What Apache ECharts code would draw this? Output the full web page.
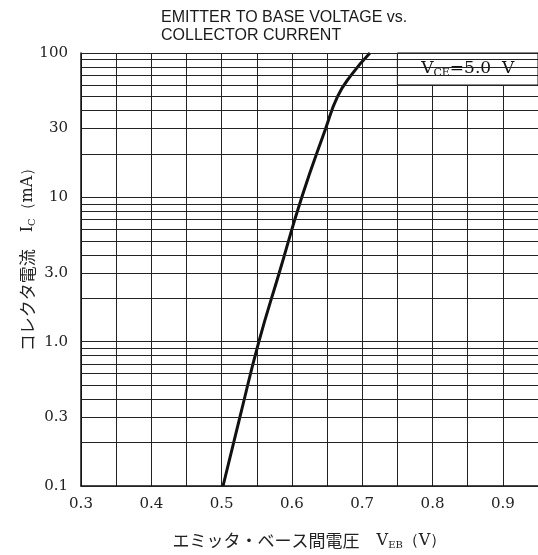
<!DOCTYPE html>
<html lang="ja">
<head>
    <meta charset="utf-8">
    <title>Emitter to base voltage vs. collector current</title>
    <script src="https://cdn.jsdelivr.net/npm/echarts@6/dist/echarts.min.js"></script>
    <style type="text/css">
        html, body {
            width: 100%;
            height: 100%;
            margin: 0px;
            padding: 0px;
            background: #fff;
        }

        #main {
            width: 538px;
            height: 555px;
        }
    </style>
</head>
<body>
<div id="main"></div>
<script>
    // curve: V_EB (V) vs I_C (mA)
    var veb = [0.502, 0.526, 0.553, 0.582, 0.614, 0.648, 0.665, 0.684, 0.711];
    var ic  = [0.1,   0.3,   1.0,   3.0,   10,    30,    50,    70,    100];

    // axis labels
    var xTicks = [0.3, 0.4, 0.5, 0.6, 0.7, 0.8, 0.9];
    var yTicks = [0.1, 0.3, 1, 3, 10, 30, 100];
    var yTickLabels = ['0.1', '0.3', '1.0', '3.0', '10', '30', '100'];

    // horizontal grid lines (1..9 per decade)
    var yGrid = [0.1, 0.2, 0.3, 0.4, 0.5, 0.6, 0.7, 0.8, 0.9,
                 1, 2, 3, 4, 5, 6, 7, 8, 9,
                 10, 20, 30, 40, 50, 60, 70, 80, 90, 100];

    var serif = "'DejaVu Serif', 'Liberation Serif', serif";
    var jp = "'Noto Sans CJK JP', sans-serif";

    var curve = veb.map(function (v, i) { return [v, ic[i]]; });

    var myChart = echarts.init(document.getElementById('main'));
    myChart.setOption({
        animation: false,
        backgroundColor: '#fff',
        title: {
            text: 'EMITTER TO BASE VOLTAGE vs.\nCOLLECTOR CURRENT',
            left: 156,
            top: 4,
            textStyle: {
                fontFamily: "'Liberation Sans', Arial, sans-serif",
                fontSize: 16,
                fontWeight: 'normal',
                lineHeight: 18,
                color: '#1a1a1a'
            }
        },
        grid: {
            left: 81,
            right: 0,
            top: 53,
            bottom: 66
        },
        xAxis: {
            type: 'value',
            min: 0.3,
            max: 0.95,
            interval: 0.05,
            name: 'エミッタ・ベース間電圧　{n|V}{s|EB}{n|（V）}',
            nameLocation: 'middle',
            nameGap: 46,
            nameTextStyle: {
                fontFamily: jp,
                fontSize: 17,
                color: '#222',
                rich: {
                    n: { fontFamily: serif, fontSize: 16, color: '#222' },
                    s: { fontFamily: serif, fontSize: 10, color: '#222', verticalAlign: 'bottom', padding: [8, 0, 0, 0] }
                }
            },
            axisLine: { show: true, lineStyle: { color: '#111', width: 1.5 } },
            axisTick: { show: false },
            axisLabel: {
                customValues: xTicks,
                margin: 11,
                fontFamily: serif,
                fontSize: 15,
                color: '#222',
                formatter: function (v) { return v.toFixed(1); }
            },
            splitLine: { show: true, lineStyle: { color: '#222', width: 1 } }
        },
        yAxis: {
            type: 'log',
            logBase: 10,
            min: 0.1,
            max: 100,
            name: 'コレクタ電流　{n|I}{s|C}{n|（mA）}',
            nameLocation: 'middle',
            nameRotate: 90,
            nameGap: 44,
            nameMoveOverlap: false,
            nameTextStyle: {
                fontFamily: jp,
                fontSize: 17,
                color: '#222',
                padding: [0, 0, 0, 28],
                rich: {
                    n: { fontFamily: serif, fontSize: 16, color: '#222' },
                    s: { fontFamily: serif, fontSize: 10, color: '#222', verticalAlign: 'bottom', padding: [8, 0, 0, 0] }
                }
            },
            axisLine: { show: true, lineStyle: { color: '#111', width: 1.5 } },
            axisTick: { show: false },
            axisLabel: {
                customValues: yTicks,
                margin: 13,
                fontFamily: serif,
                fontSize: 15,
                color: '#222',
                formatter: function (v) {
                    for (var i = 0; i < yTicks.length; i++) {
                        if (Math.abs(Math.log10(v) - Math.log10(yTicks[i])) < 0.01) return yTickLabels[i];
                    }
                    return '';
                }
            },
            splitLine: { show: false },
            minorSplitLine: { show: false }
        },
        series: [
            {
                // horizontal grid lines
                type: 'line',
                data: [],
                z: 2,
                silent: true,
                markLine: {
                    silent: true,
                    symbol: 'none',
                    label: { show: false },
                    lineStyle: { color: '#222', width: 1, type: 'solid' },
                    data: yGrid.map(function (v) { return { yAxis: v }; })
                }
            },
            {
                // white legend box in the top right corner
                type: 'line',
                data: [],
                z: 3,
                silent: true,
                markArea: {
                    silent: true,
                    itemStyle: { color: '#fff', borderColor: '#111', borderWidth: 1, opacity: 1 },
                    label: {
                        show: true,
                        position: 'inside',
                        formatter: '{n|V}{s|CE}{n|=5.0  V}',
                        rich: {
                            n: { fontFamily: serif, fontSize: 17, color: '#111' },
                            s: { fontFamily: serif, fontSize: 11, color: '#111', verticalAlign: 'bottom', padding: [8, 0, 0, 0] }
                        }
                    },
                    data: [[{ xAxis: 0.75, yAxis: 60 }, { xAxis: 0.95, yAxis: 100 }]]
                }
            },
            {
                type: 'line',
                data: curve,
                z: 4,
                smooth: 0.5,
                showSymbol: false,
                symbol: 'none',
                lineStyle: { color: '#111', width: 3 }
            }
        ]
    });
</script>
</body>
</html>
